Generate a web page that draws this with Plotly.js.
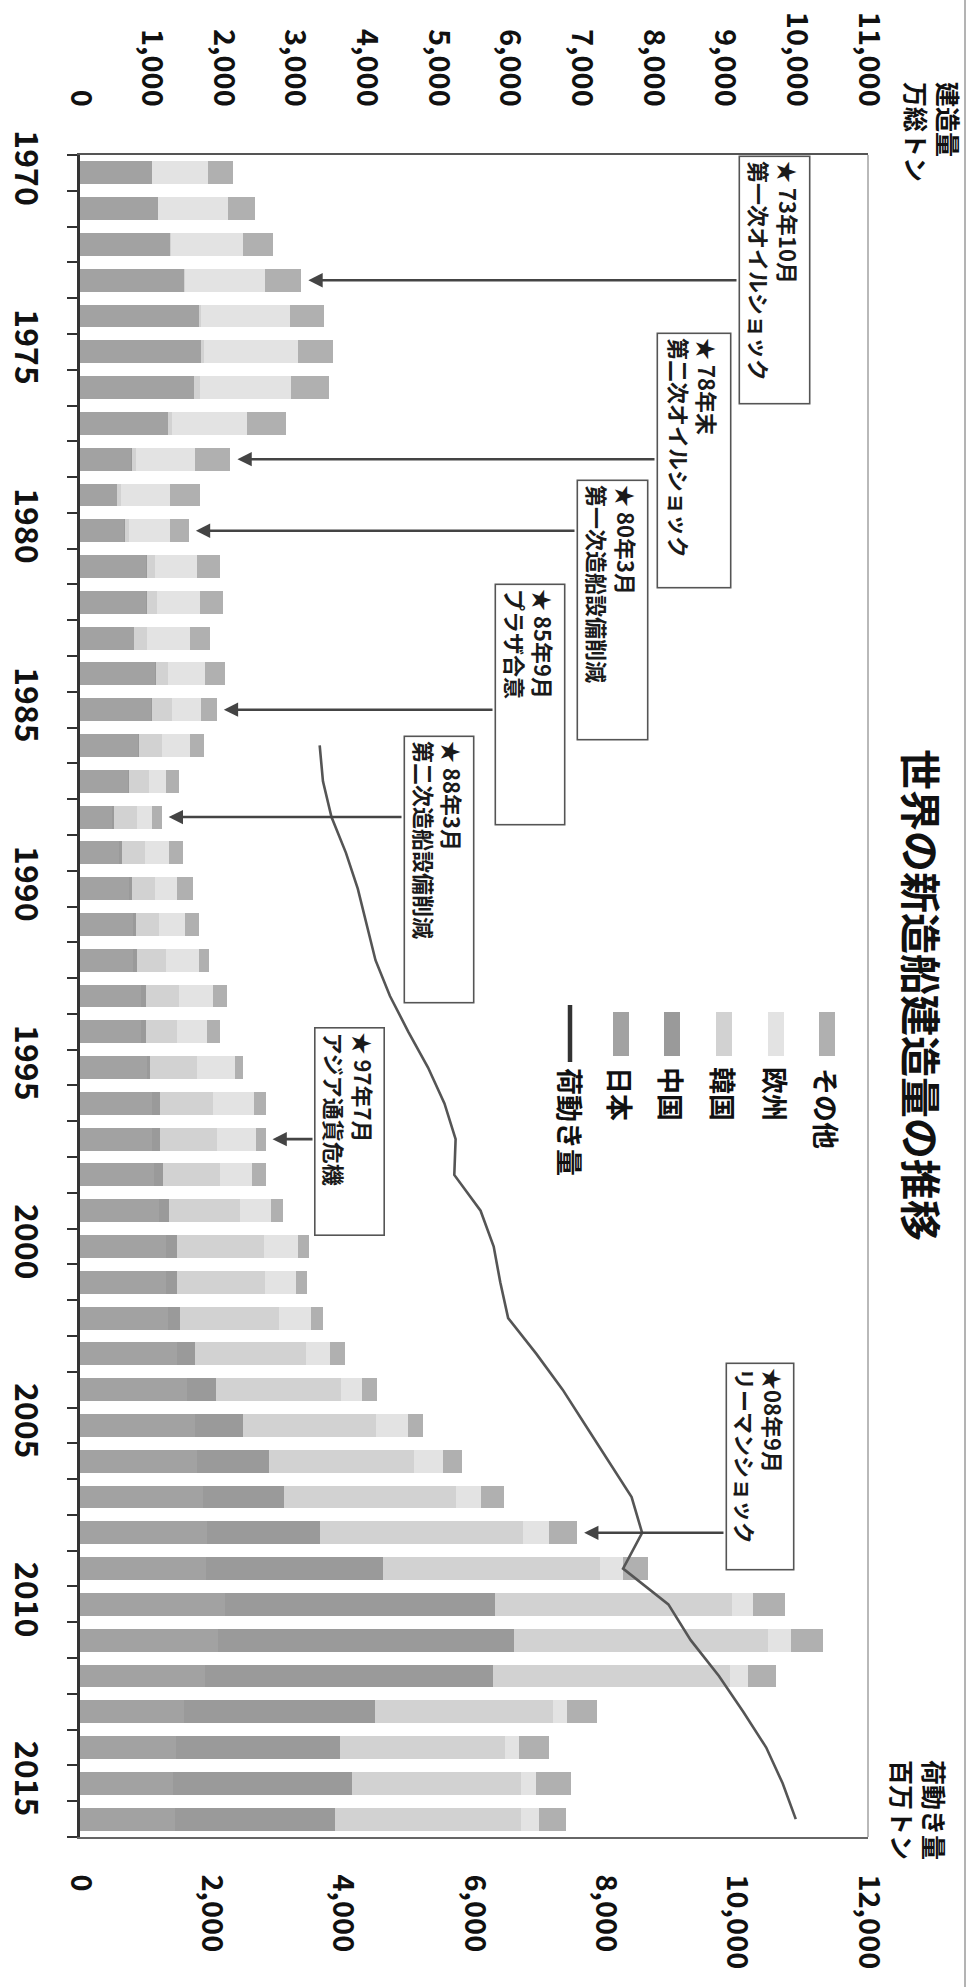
<!DOCTYPE html>
<html>
<head>
<meta charset="utf-8">
<script src="https://cdn.plot.ly/plotly-3.0.1.min.js"></script>
<style>
html,body{margin:0;padding:0;background:#fff;}
#chart{width:969px;height:1987px;}
</style>
</head>
<body>
<div id="chart"></div>
<script>
// ---- data (建造量: 万総トン, 荷動き量: 百万トン) ----
const years = [1970,1971,1972,1973,1974,1975,1976,1977,1978,1979,
               1980,1981,1982,1983,1984,1985,1986,1987,1988,1989,
               1990,1991,1992,1993,1994,1995,1996,1997,1998,1999,
               2000,2001,2002,2003,2004,2005,2006,2007,2008,2009,
               2010,2011,2012,2013,2014,2015,2016];
const japan  = [1000,1090,1260,1450,1660,1690,1590,1230,710,510,
                620,920,920,750,1050,990,810,670,440,550,
                690,740,740,850,850,930,1000,1000,1030,1100,
                1200,1200,1230,1360,1500,1600,1640,1710,1770,1760,
                2020,1930,1740,1450,1340,1300,1330];
const china  = [0,0,0,0,0,0,0,0,10,10,
                10,10,10,10,10,20,20,20,30,30,
                40,40,50,70,70,50,110,110,130,140,
                150,150,170,250,400,680,1000,1140,1580,2470,
                3780,4130,4030,2670,2290,2500,2230];
const korea  = [0,0,10,20,30,40,80,60,60,50,
                60,120,140,180,170,270,310,270,320,330,
                310,320,410,460,430,660,750,800,800,1000,
                1220,1230,1380,1550,1750,1850,2020,2400,2830,3030,
                3300,3550,3300,2480,2300,2350,2600];
const europe = [780,980,1010,1110,1240,1310,1280,1040,830,680,
                560,580,600,590,510,410,400,240,210,330,
                320,370,460,480,420,530,570,550,440,430,
                470,440,450,330,290,450,410,350,370,320,
                300,320,260,200,200,220,250];
const other  = [350,370,420,510,480,490,530,550,490,420,
                270,330,330,280,280,220,190,180,140,200,
                220,190,140,190,180,110,160,130,190,160,
                160,150,160,210,210,210,260,320,390,350,
                440,440,390,420,420,490,370];
const tradeYears = [1986,1987,1988,1989,1990,1991,1992,1993,1994,1995,
                    1996,1997,1998,1999,2000,2001,2002,2003,2004,2005,
                    2006,2007,2008,2009,2010,2011,2012,2013,2014,2015,2016];
const trade = [3650,3700,3830,4050,4230,4370,4500,4720,5000,5300,
               5550,5720,5700,6100,6300,6400,6520,6950,7350,7700,
               8050,8400,8560,8270,8960,9300,9730,10100,10450,10700,10900];
const yearTicks = [1970,1975,1980,1985,1990,1995,2000,2005,2010,2015];
const seriesNames = ['日本','中国','韓国','欧州','その他'];
const lineName = '荷動き量';
const chartTitle = '世界の新造船建造量の推移';
const leftAxisTitle = '建造量<br>万総トン';
const rightAxisTitle = '荷動き量<br>百万トン';
const eventYears = [1973,1978,1980,1985,1988,1997,2008];
const eventLine1 = ['★ 73年10月','★ 78年末','★ 80年3月','★ 85年9月','★ 88年3月','★ 97年7月','★08年9月'];
const eventLine2 = ['第一次オイルショック','第二次オイルショック','第一次造船設備削減','プラザ合意','第二次造船設備削減','アジア通貨危機','リーマンショック'];

// ---- layout helpers ----
const W = 969, H = 1987, L = 80, R = 868, T = 155, B = 1837;
const BAR_MAX = 11000, LINE_MAX = 12000;
const FONT = '"Noto Sans CJK JP", "Noto Sans", sans-serif';
const px2px = px => (px - L) / (R - L);
const py2py = py => 1 - (py - T) / (B - T);
const px2top = px => (px - L) / (R - L) * BAR_MAX;

const colors = ['#a2a2a2', '#9a9a9a', '#d2d2d2', '#e3e3e3', '#b0b0b0'];
const seriesVals = [japan, china, korea, europe, other];

const traces = seriesVals.map((v, i) => ({
  type: 'bar', orientation: 'h', name: seriesNames[i],
  y: years, x: v, xaxis: 'x', yaxis: 'y',
  marker: {color: colors[i], line: {width: 0}},
  showlegend: false, hoverinfo: 'skip'
}));
traces.push({
  type: 'scatter', mode: 'lines', name: lineName,
  x: trade, y: tradeYears, xaxis: 'x2', yaxis: 'y',
  line: {color: '#555555', width: 2.6}, showlegend: false, hoverinfo: 'skip'
});

// box geometry (pixel rectangles on page): [left, right, top, bottom]
const boxes = [
  [738, 811, 155, 405],
  [656, 732, 332, 589],
  [576, 649, 479, 741],
  [494, 566, 583, 826],
  [403, 475, 735, 1004],
  [314, 386, 1026, 1236],
  [725, 795, 1362, 1571]
];

const annotations = [];
const shapes = [];

eventYears.forEach((yr, i) => {
  const idx = years.indexOf(yr);
  const total = japan[idx] + china[idx] + korea[idx] + europe[idx] + other[idx];
  const b = boxes[i];
  annotations.push({
    xref: 'x', yref: 'y', axref: 'x', ayref: 'y',
    x: total, y: yr, ax: px2top(b[0]), ay: yr,
    text: '', showarrow: true, arrowhead: 2, arrowsize: 1.1,
    arrowwidth: 2.6, arrowcolor: '#444', standoff: 7
  });
  annotations.push({
    xref: 'paper', yref: 'paper',
    x: px2px((b[0] + b[1]) / 2), y: py2py((b[2] + b[3]) / 2),
    xanchor: 'center', yanchor: 'middle',
    text: eventLine1[i] + '<br>' + eventLine2[i],
    textangle: 90, align: 'left', valign: 'middle',
    width: (b[3] - b[2]) - 12, height: (b[1] - b[0]) - 12,
    showarrow: false, bgcolor: '#ffffff',
    bordercolor: '#555', borderwidth: 1.6, borderpad: 4,
    font: {family: FONT, size: 22, color: '#1a1a1a', weight: 'bold'}
  });
});

// title
annotations.push({
  xref: 'paper', yref: 'paper', x: px2px(923), y: py2py(995),
  xanchor: 'center', yanchor: 'middle', showarrow: false,
  text: chartTitle, textangle: 90,
  font: {family: FONT, size: 41, color: '#111', weight: 'bold'}
});
// axis titles
annotations.push({
  xref: 'paper', yref: 'paper', x: px2px(932), y: py2py(132),
  xanchor: 'center', yanchor: 'middle', showarrow: false,
  text: leftAxisTitle, textangle: 90, align: 'left',
  font: {family: FONT, size: 25, color: '#111', weight: 'bold'}
});
annotations.push({
  xref: 'paper', yref: 'paper', x: px2px(919), y: py2py(1810),
  xanchor: 'center', yanchor: 'middle', showarrow: false,
  text: rightAxisTitle, textangle: 90, align: 'left',
  font: {family: FONT, size: 25, color: '#111', weight: 'bold'}
});

// legend (manual, rotated like the reference)
const legendOrder = [4, 3, 2, 1, 0]; // その他, 欧州, 韓国, 中国, 日本
const legendX = [827, 776, 724, 672, 621];
legendOrder.forEach((si, k) => {
  const cx = legendX[k];
  shapes.push({
    type: 'rect', xref: 'paper', yref: 'paper',
    x0: px2px(cx - 8), x1: px2px(cx + 8), y0: py2py(1056), y1: py2py(1012),
    fillcolor: colors[si], line: {width: 0}
  });
  const n = seriesNames[si].length;
  annotations.push({
    xref: 'paper', yref: 'paper', x: px2px(cx), y: py2py(1066 + n * 14),
    xanchor: 'center', yanchor: 'middle', showarrow: false,
    text: seriesNames[si], textangle: 90,
    font: {family: FONT, size: 27, color: '#111', weight: 'bold'}
  });
});
shapes.push({
  type: 'line', xref: 'paper', yref: 'paper',
  x0: px2px(570), x1: px2px(570), y0: py2py(1005), y1: py2py(1062),
  line: {color: '#333', width: 4.5}
});
annotations.push({
  xref: 'paper', yref: 'paper', x: px2px(571), y: py2py(1066 + 4 * 14),
  xanchor: 'center', yanchor: 'middle', showarrow: false,
  text: lineName, textangle: 90,
  font: {family: FONT, size: 27, color: '#111', weight: 'bold'}
});

// right frame + outer frame line
shapes.push({type: 'line', xref: 'paper', yref: 'paper', x0: 1, x1: 1, y0: 0, y1: 1,
  line: {color: '#8a8a8a', width: 1.2}});
shapes.push({type: 'line', xref: 'paper', yref: 'paper',
  x0: px2px(965), x1: px2px(965), y0: py2py(0), y1: py2py(H),
  line: {color: '#9a9a9a', width: 1.5}});

const tickFont = {family: FONT, size: 29, color: '#111', weight: 'bold'};

const layout = {
  width: W, height: H,
  margin: {l: L, r: W - R, t: T, b: H - B, pad: 0},
  paper_bgcolor: '#ffffff', plot_bgcolor: '#ffffff',
  barmode: 'stack', bargap: 0.36,
  showlegend: false,
  xaxis: {
    side: 'top', anchor: 'y', range: [0, BAR_MAX], dtick: 1000, tick0: 0,
    tickformat: ',d', tickangle: 90, tickfont: tickFont,
    ticks: '', ticklabelstandoff: 36,
    showgrid: false, zeroline: false,
    showline: true, linecolor: '#555', linewidth: 2
  },
  xaxis2: {
    side: 'bottom', overlaying: 'x', anchor: 'y', range: [0, LINE_MAX], dtick: 2000, tick0: 0,
    tickformat: ',d', tickangle: 90, tickfont: tickFont,
    ticks: '', ticklabelstandoff: 30,
    showgrid: false, zeroline: false,
    showline: true, linecolor: '#666', linewidth: 1.6
  },
  yaxis: {
    range: [2016.5, 1969.5], tickmode: 'array', tickvals: yearTicks,
    tickangle: 90, tickfont: {family: FONT, size: 32, color: '#111', weight: 'bold'},
    ticks: '', ticklabelstandoff: 24,
    minor: {tickmode: 'linear', tick0: 1969.5, dtick: 1, ticks: 'outside',
            ticklen: 10, tickwidth: 2, tickcolor: '#333', showgrid: false},
    showgrid: false, zeroline: false,
    showline: true, linecolor: '#333', linewidth: 2.6
  },
  yaxis2: {
    overlaying: 'y', anchor: 'x', side: 'left', range: [2016.5, 1969.5],
    tickmode: 'linear', tick0: 1969.5, dtick: 1, ticks: 'inside',
    ticklen: 9, tickwidth: 2, tickcolor: '#333',
    showticklabels: false, showgrid: false, zeroline: false, showline: false
  },
  annotations: annotations,
  shapes: shapes
};

Plotly.newPlot('chart', traces, layout, {displayModeBar: false, staticPlot: true});
</script>
</body>
</html>
